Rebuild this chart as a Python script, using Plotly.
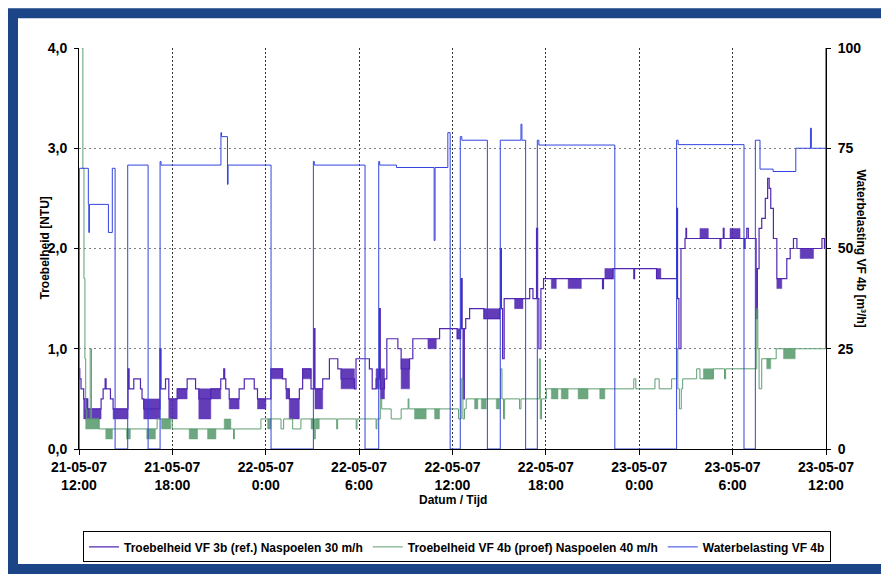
import pandas as pd
import plotly.graph_objects as go

START = pd.Timestamp("2007-05-21 12:00")

# ---------------- data (hours since 21-05-07 12:00) ----------------
# Waterbelasting VF 4b [m3/h]  (step series)
blue_t = [0.00, 0.02, 0.60, 0.63, 0.67, 1.89, 2.14, 2.32, 3.13, 4.44, 5.21, 5.27,
          9.12, 9.16, 9.54, 9.58, 12.34, 15.06, 15.12, 18.38, 19.26, 19.32, 20.40,
          22.82, 22.88, 23.70, 23.85, 24.50, 24.60, 26.24, 27.07, 28.40, 28.46, 28.70,
          29.45, 29.55, 34.43, 38.40, 38.50, 42.73, 43.46, 43.76, 44.60, 46.06, 47.00,
          47.06, 48.00]
blue_w = [0.0, 70.0, 61.0, 54.0, 61.0, 54.0, 70.0, 0.0, 70.8, 0.0, 71.7, 70.8,
          78.9, 77.9, 66.0, 70.8, 0.0, 71.7, 70.8, 0.0, 71.7, 70.8, 70.2,
          52.0, 70.2, 78.9, 0.0, 77.9, 77.0, 0.0, 77.0, 81.0, 77.0, 0.0,
          77.0, 75.8, 0.0, 77.0, 75.9, 0.0, 77.0, 69.8, 69.2, 75.0, 80.0,
          75.0, 75.0]

# Troebelheid VF 3b (ref.) [NTU]  (step series)
purple_t = [0.00, 0.05, 0.13, 0.30, 0.56, 1.42, 1.55, 1.68, 1.74, 2.02, 2.19, 3.15,
            3.22, 3.52, 3.95, 4.05, 4.16, 5.20, 5.27, 5.56, 5.77, 6.31, 6.95, 7.49,
            7.70, 8.47, 9.11, 9.30, 9.36, 9.43, 9.65, 10.29, 10.62, 11.26, 11.47,
            12.33, 13.08, 13.30, 13.51, 14.16, 14.37, 14.91, 15.10, 15.16, 15.66,
            16.09, 16.63, 16.84, 17.70, 17.80, 18.66, 18.84, 19.09, 19.31, 19.36,
            19.63, 19.78, 20.49, 20.70, 21.24, 21.45, 23.17, 24.30, 24.52, 24.55,
            24.62, 24.68, 24.76, 24.85, 25.10, 26.02, 27.03, 27.08, 27.14, 27.22,
            27.32, 28.96, 29.17, 29.40, 29.47, 29.55, 29.68, 29.85, 33.64, 33.70,
            34.32, 35.65, 35.70, 37.11, 38.40, 38.46, 38.55, 38.68, 38.94, 39.00,
            39.04, 41.19, 41.25, 41.40, 41.45, 42.74, 42.80, 42.91, 43.01, 43.51,
            43.59, 43.70, 43.87, 44.10, 44.25, 44.35, 44.45, 44.62, 44.84, 45.48,
            45.70, 45.91, 46.13, 47.74, 47.90, 48.00]
purple_v = [0.8, 0.7, 0.6, 0.5, 0.4, 0.5, 0.6, 0.7, 0.6, 0.5, 0.4, 0.8,
            0.6, 0.7, 0.6, 0.5, 0.4, 1.0, 0.6, 0.7, 0.5, 0.6, 0.7, 0.6,
            0.5, 0.6, 0.7, 0.8, 0.7, 0.6, 0.5, 0.6, 0.7, 0.6, 0.5,
            0.8, 0.7, 0.6, 0.5, 0.6, 0.8, 0.6, 1.2, 0.6, 0.7,
            0.9, 0.8, 0.7, 0.6, 0.9, 0.8, 0.6, 0.7, 1.4, 0.6,
            0.7, 1.1, 1.0, 0.8, 0.9, 1.1, 1.2, 1.1, 1.2, 1.7,
            1.2, 0.5, 1.2, 1.3, 1.4, 1.3, 1.4, 2.0, 1.4, 0.9,
            1.5, 1.6, 1.5, 2.2, 1.5, 1.0, 1.6, 1.7, 1.6, 1.7,
            1.8, 1.7, 1.8, 1.7, 2.4, 1.5, 1.0, 2.0, 2.1, 2.2,
            2.1, 2.0, 2.1, 2.2, 2.1, 2.0, 2.1, 2.2, 2.1, 1.3,
            1.8, 2.2, 2.3, 2.5, 2.7, 2.6, 2.4, 2.1, 1.7, 1.9,
            2.0, 2.1, 2.0, 2.1, 2.0, 2.0]
# dense fluctuation blocks of VF 3b: start, end, low, high
purple_blk_t0 = [0.30, 0.56, 2.19, 4.16, 5.77, 6.31, 7.70, 8.47, 9.65, 11.47, 12.33,
                 13.30, 13.51, 14.37, 15.16, 16.84, 19.09, 19.36, 20.70, 22.42, 24.30,
                 26.02, 27.99, 30.35, 31.43, 33.79, 37.11, 39.90, 41.83, 44.84, 46.34]
purple_blk_t1 = [0.56, 1.42, 3.15, 5.20, 6.31, 6.95, 8.47, 9.11, 10.29, 12.01, 13.08,
                 13.51, 14.16, 14.91, 15.66, 17.70, 19.29, 19.63, 21.24, 22.96, 24.52,
                 27.03, 28.53, 30.67, 32.28, 34.32, 37.39, 40.44, 42.48, 45.16, 47.20]
purple_blk_lo = [0.3, 0.3, 0.3, 0.3, 0.3, 0.5, 0.3, 0.5, 0.4, 0.4, 0.7,
                 0.5, 0.3, 0.7, 0.4, 0.6, 0.6, 0.5, 0.6, 1.0, 1.1,
                 1.3, 1.4, 1.6, 1.6, 1.7, 1.7, 2.1, 2.1, 1.6, 1.9]
purple_blk_hi = [0.5, 0.4, 0.4, 0.5, 0.5, 0.6, 0.6, 0.6, 0.5, 0.5, 0.8,
                 0.6, 0.5, 0.8, 0.6, 0.8, 0.8, 0.8, 0.9, 1.1, 1.2,
                 1.4, 1.5, 1.7, 1.7, 1.8, 1.8, 2.2, 2.2, 1.7, 2.0]

# Troebelheid VF 4b (proef) [NTU]  (step series)
green_t = [0.10, 0.17, 0.25, 0.32, 0.38, 0.43, 0.50, 0.72, 0.80, 1.29, 5.02, 5.99,
           9.93, 9.98, 11.69, 12.98, 13.15, 13.73, 14.26, 15.12, 15.18, 16.56, 16.62,
           17.81, 17.86, 19.09, 19.14, 19.36, 19.45, 20.06, 20.70, 21.15, 21.20,
           24.39, 24.56, 24.67, 24.77, 24.88, 27.10, 27.18, 27.28, 27.35, 28.31,
           28.40, 29.58, 29.64, 29.72, 30.03, 35.65, 35.78, 37.01, 37.28, 38.08,
           38.42, 38.48, 38.58, 38.70, 38.79, 39.69, 39.90, 40.76, 41.48, 41.55,
           43.55, 43.62, 43.70, 43.87, 44.80, 47.97, 48.00]
green_v = [4.5, 4.0, 2.8, 1.7, 0.9, 0.4, 0.3, 1.0, 0.3, 0.2, 0.3, 0.2,
           0.1, 0.2, 0.3, 0.2, 0.3, 0.2, 0.3, 0.1, 0.3, 0.2, 0.3,
           0.2, 0.3, 0.2, 0.3, 0.5, 0.4, 0.3, 0.4, 0.5, 0.4,
           0.3, 0.7, 0.3, 0.4, 0.5, 0.8, 0.5, 0.3, 0.5, 0.4,
           0.5, 0.9, 0.3, 0.5, 0.6, 0.7, 0.6, 0.7, 0.6, 0.7,
           1.0, 0.6, 0.4, 0.6, 0.7, 0.8, 0.7, 0.8, 0.7, 0.8,
           1.4, 1.0, 0.6, 0.9, 1.0, 4.5, 4.5]
green_blk_t0 = [0.43, 1.72, 3.05, 4.35, 5.30, 7.08, 8.26, 9.33, 12.12, 14.91, 15.23,
                21.56, 22.85, 25.42, 25.85, 26.81, 30.35, 30.99, 32.07, 33.46, 40.12,
                44.19, 45.27]
green_blk_t1 = [1.29, 2.15, 3.30, 4.91, 5.90, 7.62, 8.80, 9.76, 12.33, 15.12, 15.44,
                22.31, 23.17, 25.63, 26.17, 27.03, 30.78, 31.43, 32.71, 33.79, 40.76,
                44.45, 46.02]
green_blk_lo = [0.2, 0.1, 0.1, 0.1, 0.2, 0.1, 0.1, 0.2, 0.2, 0.2, 0.2,
                0.3, 0.3, 0.4, 0.4, 0.4, 0.5, 0.5, 0.5, 0.5, 0.7,
                0.8, 0.9]
green_blk_hi = [0.3, 0.2, 0.2, 0.2, 0.3, 0.2, 0.2, 0.3, 0.3, 0.3, 0.3,
                0.4, 0.4, 0.5, 0.5, 0.5, 0.6, 0.6, 0.6, 0.6, 0.8,
                0.9, 1.0]

tick_hours = [0, 6, 12, 18, 24, 30, 36, 42, 48]
tick_labels = ["21-05-07<br>12:00", "21-05-07<br>18:00", "22-05-07<br>0:00",
               "22-05-07<br>6:00", "22-05-07<br>12:00", "22-05-07<br>18:00",
               "23-05-07<br>0:00", "23-05-07<br>6:00", "23-05-07<br>12:00"]

names = ["Troebelheid VF 3b (ref.) Naspoelen 30 m/h",
         "Troebelheid VF 4b (proef) Naspoelen 40 m/h",
         "Waterbelasting VF 4b"]

PURPLE = "#5227B2"
GREEN = "#5E9E72"
BLUE = "#3344DD"
FONT = "Liberation Sans, Arial, sans-serif"


def to_time(hours):
    return [START + pd.Timedelta(hours=h) for h in hours]


def block_xy(t0, t1, lo, hi):
    xs, ys = [], []
    for a, b, l, h in zip(t0, t1, lo, hi):
        xs += to_time([a, b, b, a, a]) + [None]
        ys += [l, l, h, h, l, None]
    return xs, ys


fig = go.Figure()

fig.add_trace(go.Scatter(x=to_time(purple_t), y=purple_v, mode="lines", name=names[0],
                         line=dict(color=PURPLE, width=1.2, shape="hv")))
px_, py_ = block_xy(purple_blk_t0, purple_blk_t1, purple_blk_lo, purple_blk_hi)
fig.add_trace(go.Scatter(x=px_, y=py_, mode="lines", fill="toself", fillcolor=PURPLE,
                         opacity=0.9, line=dict(color=PURPLE, width=0.5),
                         showlegend=False, hoverinfo="skip"))

fig.add_trace(go.Scatter(x=to_time(green_t), y=green_v, mode="lines", name=names[1],
                         line=dict(color=GREEN, width=1, shape="hv")))
gx_, gy_ = block_xy(green_blk_t0, green_blk_t1, green_blk_lo, green_blk_hi)
fig.add_trace(go.Scatter(x=gx_, y=gy_, mode="lines", fill="toself", fillcolor=GREEN,
                         opacity=0.9, line=dict(color=GREEN, width=0.5),
                         showlegend=False, hoverinfo="skip"))

fig.add_trace(go.Scatter(x=to_time(blue_t), y=blue_w, mode="lines", name=names[2], yaxis="y2",
                         line=dict(color=BLUE, width=1, shape="hv")))

# page offset of the figure (browser body margin)
OX, OY = 8, 8
W, H = 889 - OX, 574 - OY
L, T = 79 - OX, 48 - OY
R = (889 - OX) - (826 - OX)
B = (574 - OY) - (452 - OY)
pw, ph = W - L - R, H - T - B


def pxx(x):
    return (x - OX - L) / pw


def pyy(y):
    return (T + ph - (y - OY)) / ph


fig.update_layout(
    width=W, height=H,
    margin=dict(l=L, r=R, t=T, b=B),
    paper_bgcolor="white", plot_bgcolor="white",
    separators=",.",
    font=dict(family=FONT, size=12, color="black"),
    xaxis=dict(
        range=to_time([0, 48]), tickvals=to_time(tick_hours), ticktext=tick_labels,
        showline=True, linecolor="black", linewidth=1, mirror=False,
        ticks="outside", ticklen=5, tickcolor="black",
        showgrid=True, gridcolor="#333333", griddash="2px,2px", gridwidth=1,
        tickfont=dict(family=FONT, size=14, weight=700, color="black"),
        zeroline=False,
    ),
    yaxis=dict(
        range=[0, 4], dtick=1, tickformat=".1f",
        showline=True, linecolor="black", linewidth=1,
        ticks="outside", ticklen=4, tickcolor="black",
        showgrid=True, gridcolor="#808080", griddash="2px,3px", gridwidth=1,
        zeroline=False, ticklabelstandoff=4,
        tickfont=dict(family=FONT, size=14, weight=700, color="black"),
    ),
    yaxis2=dict(
        range=[0, 100], dtick=25, overlaying="y", side="right",
        showline=True, linecolor="black", linewidth=1,
        ticks="outside", ticklen=4, tickcolor="black",
        showgrid=False, zeroline=False, ticklabelstandoff=4,
        tickfont=dict(family=FONT, size=14, weight=700, color="black"),
    ),
    legend=dict(
        orientation="h", x=pxx(457), xanchor="center", y=pyy(535), yanchor="top",
        bordercolor="black", borderwidth=1, bgcolor="white",
        font=dict(family=FONT, size=12, weight=700, color="black"),
        itemwidth=30, tracegroupgap=0,
    ),
    shapes=[dict(type="rect", xref="paper", yref="paper",
                 x0=pxx(13), x1=pxx(905), y0=pyy(573), y1=pyy(13),
                 line=dict(color="#1C4587", width=10), fillcolor="rgba(0,0,0,0)",
                 layer="below")],
    annotations=[
        dict(text="<b>Troebelheid [NTU]</b>", xref="paper", yref="paper",
             x=pxx(35), y=0.5, textangle=-90, showarrow=False,
             font=dict(family=FONT, size=12, color="black")),
        dict(text="<b>Waterbelasting VF 4b [m³/h]</b>", xref="paper", yref="paper",
             x=pxx(870), y=0.5, textangle=90, showarrow=False,
             font=dict(family=FONT, size=12, color="black")),
        dict(text="<b>Datum / Tijd</b>", xref="paper", yref="paper",
             x=pxx(453), y=pyy(512), showarrow=False,
             font=dict(family=FONT, size=12, color="black")),
    ],
)

fig.write_html("out.html")
